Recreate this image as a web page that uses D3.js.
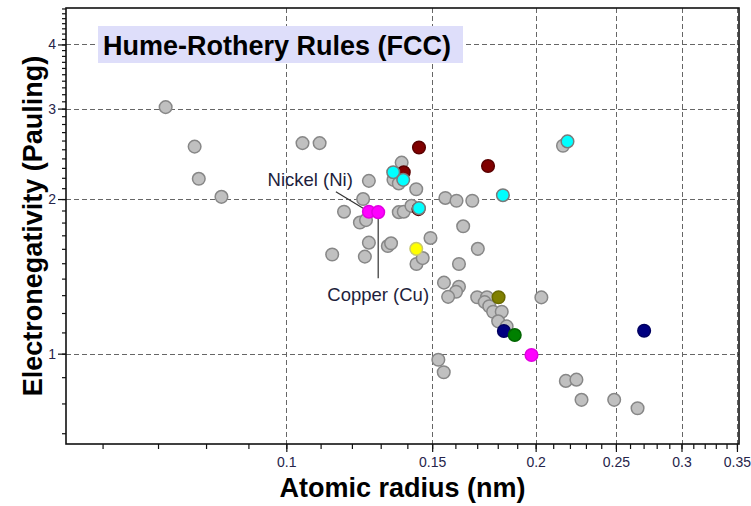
<!DOCTYPE html>
<html>
<head>
<meta charset="utf-8">
<script src="https://cdn.jsdelivr.net/npm/d3@7"></script>
<style>
  html, body { margin: 0; padding: 0; background: #fff; }
  svg { display: block; font-family: "Liberation Sans", Arial, sans-serif; }
</style>
</head>
<body>
<svg id="chart" width="751" height="506"></svg>
<script>
// Atomic radius (nm) and Pauling electronegativity of the other elements (gray)
const otherRadius = [0.0715, 0.0775, 0.0784, 0.0835, 0.1046, 0.1097, 0.1136, 0.1174,
  0.1258, 0.1238, 0.1227, 0.1248, 0.1258, 0.1244, 0.1326, 0.1338, 0.1378, 0.1347,
  0.1367, 0.1435, 0.1367, 0.1386, 0.1416, 0.1493, 0.1436, 0.1461, 0.1556, 0.1605,
  0.1677, 0.1635, 0.1703, 0.1616, 0.1550, 0.1616, 0.1603, 0.1568, 0.1700, 0.1747,
  0.1736, 0.1758, 0.1777, 0.1820, 0.1802, 0.1845, 0.2032, 0.2158, 0.1526, 0.1549,
  0.2175, 0.2240, 0.2272, 0.2488, 0.2655];
const otherEN = [3.02, 2.53, 2.19, 2.02, 2.57, 2.57, 1.56, 1.89,
  2.17, 2.00, 1.80, 1.82, 1.645, 1.545, 1.62, 1.64, 2.355, 2.18,
  2.145, 2.09, 1.886, 1.89, 1.94, 1.68, 1.495, 1.535, 2.01, 1.985,
  1.985, 1.77, 1.60, 1.495, 1.375, 1.35, 1.32, 1.29, 1.288, 1.288,
  1.26, 1.237, 1.207, 1.207, 1.156, 1.13, 1.287, 2.54, 0.973, 0.92,
  0.885, 0.89, 0.813, 0.813, 0.783];

// Highlighted groups
const maroonRadius = [0.1444, 0.1446, 0.1752, 0.1386];
const maroonEN = [1.912, 2.52, 2.32, 2.256];
const cyanRadius = [0.1346, 0.1384, 0.1446, 0.1826, 0.2185];
const cyanEN = [2.256, 2.18, 1.92, 2.035, 2.59];
const magentaRadius = [0.1258, 0.1291, 0.1977];
const magentaEN = [1.89, 1.886, 0.994];
const yellowRadius = [0.1435];
const yellowEN = [1.60];
const oliveRadius = [0.1804];
const oliveEN = [1.288];
const navyRadius = [0.1831, 0.2704];
const navyEN = [1.107, 1.108];
const greenRadius = [0.1887];
const greenEN = [1.087];

// Axis ticks
const xTickLabels = [0.1, 0.15, 0.2, 0.25, 0.3, 0.35];
const yTickLabels = [1, 2, 3, 4];
const xDomain = [0.0542, 0.352];
const yDomain = [0.667, 4.71];

const groups = [
  { r: maroonRadius,  e: maroonEN,  fill: "#800000", stroke: "#5a0000" },
  { r: cyanRadius,    e: cyanEN,    fill: "#00ffff", stroke: "#7a7a7a" },
  { r: magentaRadius, e: magentaEN, fill: "#ff00ff", stroke: "#e000e0" },
  { r: yellowRadius,  e: yellowEN,  fill: "#ffff00", stroke: "#c8c870" },
  { r: oliveRadius,   e: oliveEN,   fill: "#808000", stroke: "#6a6a00" },
  { r: navyRadius,    e: navyEN,    fill: "#000080", stroke: "#000060" },
  { r: greenRadius,   e: greenEN,   fill: "#008000", stroke: "#006400" }
];

const W = 751, H = 506;
const margin = { top: 8, right: 12, bottom: 62, left: 66 };
const svg = d3.select("#chart");

const x = d3.scaleLog().domain(xDomain).range([margin.left, W - margin.right]);
const y = d3.scaleLog().domain(yDomain).range([H - margin.bottom, margin.top]);

const x0 = margin.left, x1 = W - margin.right;
const y0 = H - margin.bottom, y1 = margin.top;

// Dashed grid
const grid = svg.append("g").attr("stroke", "#666").attr("stroke-width", 1)
  .attr("stroke-dasharray", "5,3");
grid.selectAll("line.gx").data(xTickLabels).join("line")
  .attr("x1", d => Math.round(x(d)) + 0.5).attr("x2", d => Math.round(x(d)) + 0.5)
  .attr("y1", y1).attr("y2", y0);
grid.selectAll("line.gy").data(yTickLabels).join("line")
  .attr("y1", d => Math.round(y(d)) + 0.5).attr("y2", d => Math.round(y(d)) + 0.5)
  .attr("x1", x0).attr("x2", x1);

// Title box
svg.append("rect").attr("x", 98).attr("y", 26).attr("width", 365).attr("height", 37)
  .attr("fill", "#dedefa");
svg.append("text").attr("x", 103).attr("y", 55)
  .attr("font-size", 27).attr("font-weight", "bold").attr("fill", "#000")
  .text("Hume-Rothery Rules (FCC)");

// Axes: minor ticks every 0.01 / 0.1, labelled majors
const xMinor = d3.range(6, 36).map(v => v / 100);
const yMinor = d3.range(7, 48).map(v => v / 10);
const xAxis = d3.axisBottom(x).tickValues(xMinor).tickSizeInner(5).tickSizeOuter(0).tickFormat("");
const yAxis = d3.axisLeft(y).tickValues(yMinor).tickSizeInner(4).tickSizeOuter(0).tickFormat("");
const gx = svg.append("g").attr("transform", `translate(0,${y0})`).call(xAxis);
const gy = svg.append("g").attr("transform", `translate(${x0},0)`).call(yAxis);
[gx, gy].forEach(g => {
  g.select(".domain").remove();
  g.selectAll(".tick line").attr("stroke", "#111").attr("stroke-width", 1.2);
});
const xMajor = d3.axisBottom(x).tickValues(xTickLabels).tickSize(8).tickPadding(5)
  .tickFormat(d3.format("~g"));
const yMajor = d3.axisLeft(y).tickValues(yTickLabels).tickSize(8).tickPadding(2)
  .tickFormat(d3.format("~g"));
const gxm = svg.append("g").attr("transform", `translate(0,${y0})`).call(xMajor);
const gym = svg.append("g").attr("transform", `translate(${x0},0)`).call(yMajor);
[gxm, gym].forEach(g => {
  g.select(".domain").remove();
  g.selectAll(".tick line").attr("stroke", "#111").attr("stroke-width", 1.2);
  g.selectAll(".tick text").attr("font-size", 14)
    .attr("font-family", "'Liberation Sans', Arial, sans-serif").attr("fill", "#26244a");
});

// Plot frame
svg.append("rect").attr("x", x0).attr("y", y1).attr("width", x1 - x0).attr("height", y0 - y1)
  .attr("fill", "none").attr("stroke", "#111").attr("stroke-width", 1.6);

// Leader lines for labelled elements
const ni = { px: x(magentaRadius[0]), py: y(magentaEN[0]) };
const cu = { px: x(magentaRadius[1]), py: y(magentaEN[1]) };
svg.append("line").attr("x1", ni.px - 33).attr("y1", ni.py - 20)
  .attr("x2", ni.px).attr("y2", ni.py).attr("stroke", "#333").attr("stroke-width", 1.2);
svg.append("line").attr("x1", cu.px).attr("y1", cu.py)
  .attr("x2", cu.px).attr("y2", cu.py + 66).attr("stroke", "#333").attr("stroke-width", 1.2);

// Points
const R = 6.3;
svg.append("g").selectAll("circle").data(d3.zip(otherRadius, otherEN)).join("circle")
  .attr("cx", d => x(d[0])).attr("cy", d => y(d[1])).attr("r", R)
  .attr("fill", "#c0c0c0").attr("stroke", "#878787").attr("stroke-width", 1.5);
groups.forEach(gr => {
  svg.append("g").selectAll("circle").data(d3.zip(gr.r, gr.e)).join("circle")
    .attr("cx", d => x(d[0])).attr("cy", d => y(d[1])).attr("r", R)
    .attr("fill", gr.fill).attr("stroke", gr.stroke).attr("stroke-width", 1.5);
});

// Element labels
svg.append("text").attr("x", ni.px - 16).attr("y", ni.py - 26).attr("text-anchor", "end")
  .attr("font-size", 18.5).attr("fill", "#1e1e3c").text("Nickel (Ni)");
svg.append("text").attr("x", cu.px).attr("y", cu.py + 89).attr("text-anchor", "middle")
  .attr("font-size", 18.5).attr("fill", "#1e1e3c").text("Copper (Cu)");

// Axis titles
svg.append("text").attr("x", (x0 + x1) / 2).attr("y", 497).attr("text-anchor", "middle")
  .attr("font-size", 27).attr("font-weight", "bold").attr("fill", "#000")
  .text("Atomic radius (nm)");
svg.append("text").attr("transform", `translate(42,${(y0 + y1) / 2}) rotate(-90)`)
  .attr("text-anchor", "middle")
  .attr("font-size", 27).attr("font-weight", "bold").attr("fill", "#000")
  .text("Electronegativity (Pauling)");
</script>
</body>
</html>
